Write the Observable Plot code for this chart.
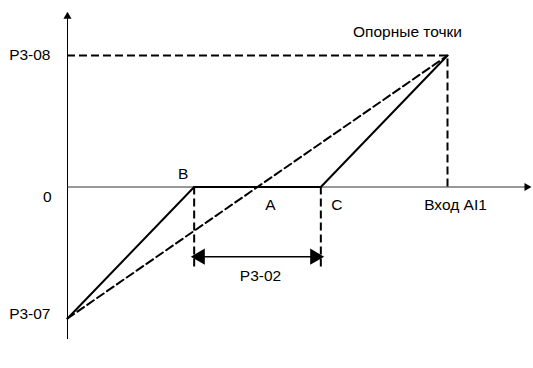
<!DOCTYPE html>
<html><head><meta charset="utf-8">
<script src="https://cdn.jsdelivr.net/npm/d3@7"></script>
<script src="https://cdn.jsdelivr.net/npm/@observablehq/plot@0.6"></script>
<style>body{margin:0;background:#fff}</style>
</head><body><div id="chart"></div>
<script>
// Characteristic: input AI1 (x) vs output (y)
const curveX = [0, 1, 2, 3];        // P3-07 start, B, C, reference point
const curveY = [-1, 0, 0, 1];
const refLineX = [0, 3];            // dashed straight line without dead zone
const refLineY = [-1, 1];
const levelLabels = ["P3-08", "0", "P3-07"];
const levelValues = [1, 0, -1];
const deadZone = [1, 2];            // B .. C
const pointLabels = ["B", "A", "C"];
const axisXLabel = "Вход AI1";
const refLabel = "Опорные точки";
const deadLabel = "P3-02";
const xAxisEnd = 3.65, yAxisTop = 1.32, yAxisBottom = -1.16;

const curve = curveX.map((x, i) => ({x, y: curveY[i]}));
const refLine = refLineX.map((x, i) => ({x, y: refLineY[i]}));
const font = "'Liberation Sans', Arial, sans-serif";
const fs = 15.5;

const chart = Plot.plot({
  width: 533, height: 368,
  margin: 0,
  style: {fontFamily: font, fontSize: fs + "px", background: "#fff"},
  x: {domain: [0, 3], range: [67, 447], axis: null},
  y: {domain: [-1, 1], range: [318, 55], axis: null},
  marks: [
    // axes
    Plot.ruleX([0], {y1: yAxisBottom, y2: yAxisTop, stroke: "#000", strokeWidth: 1}),
    Plot.ruleY([0], {x1: 0, x2: xAxisEnd, stroke: "#333", strokeWidth: 1}),
    Plot.dot([{x: 0, y: yAxisTop}], {x: "x", y: "y", symbol: "triangle", r: 3, fill: "#000", stroke: null, dy: 3}),
    Plot.dot([{x: xAxisEnd, y: 0}], {x: "x", y: "y", symbol: "triangle", r: 3, fill: "#000", stroke: null, rotate: 90, dx: -3}),
    // reference dashed guides
    Plot.ruleY([levelValues[0]], {x1: 0, x2: curveX[3], stroke: "#000", strokeWidth: 2, strokeDasharray: "8,4"}),
    Plot.ruleX([curveX[3]], {y1: 0, y2: levelValues[0], stroke: "#000", strokeWidth: 2, strokeDasharray: "8,4"}),
    Plot.ruleX(deadZone, {y1: 0, y2: -0.61, stroke: "#000", strokeWidth: 2, strokeDasharray: "8,4"}),
    // straight dashed line
    Plot.line(refLine, {x: "x", y: "y", stroke: "#000", strokeWidth: 2, strokeDasharray: "8,4"}),
    // characteristic with dead zone
    Plot.line(curve, {x: "x", y: "y", stroke: "#000", strokeWidth: 2}),
    // dimension arrow P3-02
    Plot.ruleY([-0.53], {x1: deadZone[0], x2: deadZone[1], stroke: "#000", strokeWidth: 1.5}),
    Plot.dot([{x: deadZone[0], y: -0.53}], {x: "x", y: "y", symbol: "triangle", r: 6, fill: "#000", stroke: null, rotate: -90, dx: 6}),
    Plot.dot([{x: deadZone[1], y: -0.53}], {x: "x", y: "y", symbol: "triangle", r: 6, fill: "#000", stroke: null, rotate: 90, dx: -6}),
    Plot.text([deadLabel], {x: (deadZone[0] + deadZone[1]) / 2, y: -0.53, dx: 3, dy: 19, fill: "#000", fontSize: fs}),
    // level labels
    Plot.text([levelLabels[0]], {x: 0, y: levelValues[0], dx: -17, textAnchor: "end", fill: "#000", fontSize: fs}),
    Plot.text([levelLabels[1]], {x: 0, y: levelValues[1], dx: -16, dy: 10, textAnchor: "end", fill: "#000", fontSize: fs}),
    Plot.text([levelLabels[2]], {x: 0, y: levelValues[2], dx: -17, dy: -4, textAnchor: "end", fill: "#000", fontSize: fs}),
    // point labels
    Plot.text([pointLabels[0]], {x: deadZone[0], y: 0, dx: -11, dy: -13, fill: "#000", fontSize: fs}),
    Plot.text([pointLabels[1]], {x: (deadZone[0] + deadZone[1]) / 2, y: 0, dx: 13, dy: 18, fill: "#000", fontSize: fs}),
    Plot.text([pointLabels[2]], {x: deadZone[1], y: 0, dx: 16, dy: 18, fill: "#000", fontSize: fs}),
    Plot.text([axisXLabel], {x: curveX[3], y: 0, dx: 8, dy: 18, fill: "#000", fontSize: fs}),
    Plot.text([refLabel], {x: curveX[3], y: levelValues[0], dx: -40, dy: -23, fill: "#000", fontSize: fs})
  ]
});
document.getElementById("chart").appendChild(chart);
</script>
</body></html>
